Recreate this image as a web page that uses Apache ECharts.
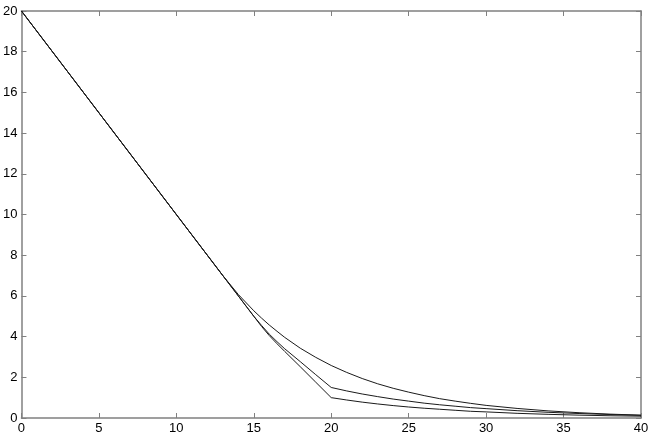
<!DOCTYPE html>
<html>
<head>
<meta charset="utf-8">
<script src="https://cdn.jsdelivr.net/npm/echarts@6/dist/echarts.min.js"></script>
<style>
  html, body { margin: 0; padding: 0; background: #fff; }
  #main { width: 654px; height: 436px; }
</style>
</head>
<body>
<div id="main"></div>
<script>
// x positions shared by the three curves
const xs = [0, 13, 14, 15, 15.5, 16, 16.5, 17, 18, 19, 20, 21, 22, 23, 24, 25, 26, 27, 28, 29, 30, 32, 34, 36, 38, 40]
// smooth curve (upper one)
const upper = [20, 7.0, 6.07, 5.27, 4.91, 4.57, 4.26, 3.96, 3.43, 2.98, 2.58, 2.24, 1.94, 1.68, 1.46, 1.27, 1.10, 0.95, 0.83, 0.72, 0.62, 0.47, 0.35, 0.26, 0.19, 0.14]
// curve with kink at 20 ending at 1.5
const middle = [20, 7.0, 6.0, 5.0, 4.55, 4.12, 3.75, 3.40, 2.77, 2.13, 1.5, 1.33, 1.18, 1.05, 0.93, 0.83, 0.73, 0.65, 0.58, 0.51, 0.46, 0.36, 0.28, 0.22, 0.17, 0.13]
// curve with kink at 20 ending at 1.0
const lower = [20, 7.0, 6.0, 5.0, 4.5, 4.05, 3.65, 3.27, 2.52, 1.76, 1.0, 0.885, 0.78, 0.69, 0.61, 0.54, 0.48, 0.43, 0.38, 0.33, 0.30, 0.23, 0.18, 0.14, 0.11, 0.09]

const axisGray = '#808080'
const font = 'Liberation Sans, Arial, sans-serif'

function pairs (ys) {
  return xs.map((x, i) => [x, ys[i]])
}

const chart = echarts.init(document.getElementById('main'))

function lineSeries (name, ys) {
  return {
    name: name,
    type: 'line',
    data: pairs(ys),
    showSymbol: false,
    smooth: false,
    lineStyle: { color: '#1a1a1a', width: 1 },
    animation: false
  }
}

const xCommon = {
  type: 'value',
  min: 0,
  max: 40,
  interval: 5,
  splitLine: { show: false },
  axisLine: { show: true, onZero: false, lineStyle: { color: axisGray, width: 1.5 } },
  axisTick: { show: true, inside: true, length: 5, lineStyle: { color: axisGray, width: 1 } }
}
const yCommon = {
  type: 'value',
  min: 0,
  max: 20,
  interval: 2,
  splitLine: { show: false },
  axisLine: { show: true, onZero: false, lineStyle: { color: axisGray, width: 1.5 } },
  axisTick: { show: true, inside: true, length: 5, lineStyle: { color: axisGray, width: 1 } }
}

chart.setOption({
  animation: false,
  grid: { left: 21, right: 13, top: 11, bottom: 18 },
  xAxis: [
    Object.assign({}, xCommon, {
      position: 'bottom',
      axisLabel: { color: '#000', fontSize: 13, fontFamily: font, margin: 4 }
    }),
    Object.assign({}, xCommon, { position: 'top', axisLabel: { show: false } })
  ],
  yAxis: [
    Object.assign({}, yCommon, {
      position: 'left',
      axisLabel: { color: '#000', fontSize: 13, fontFamily: font, margin: 4 }
    }),
    Object.assign({}, yCommon, { position: 'right', axisLabel: { show: false } })
  ],
  series: [
    lineSeries('upper', upper),
    lineSeries('middle', middle),
    lineSeries('lower', lower)
  ]
})
</script>
</body>
</html>
